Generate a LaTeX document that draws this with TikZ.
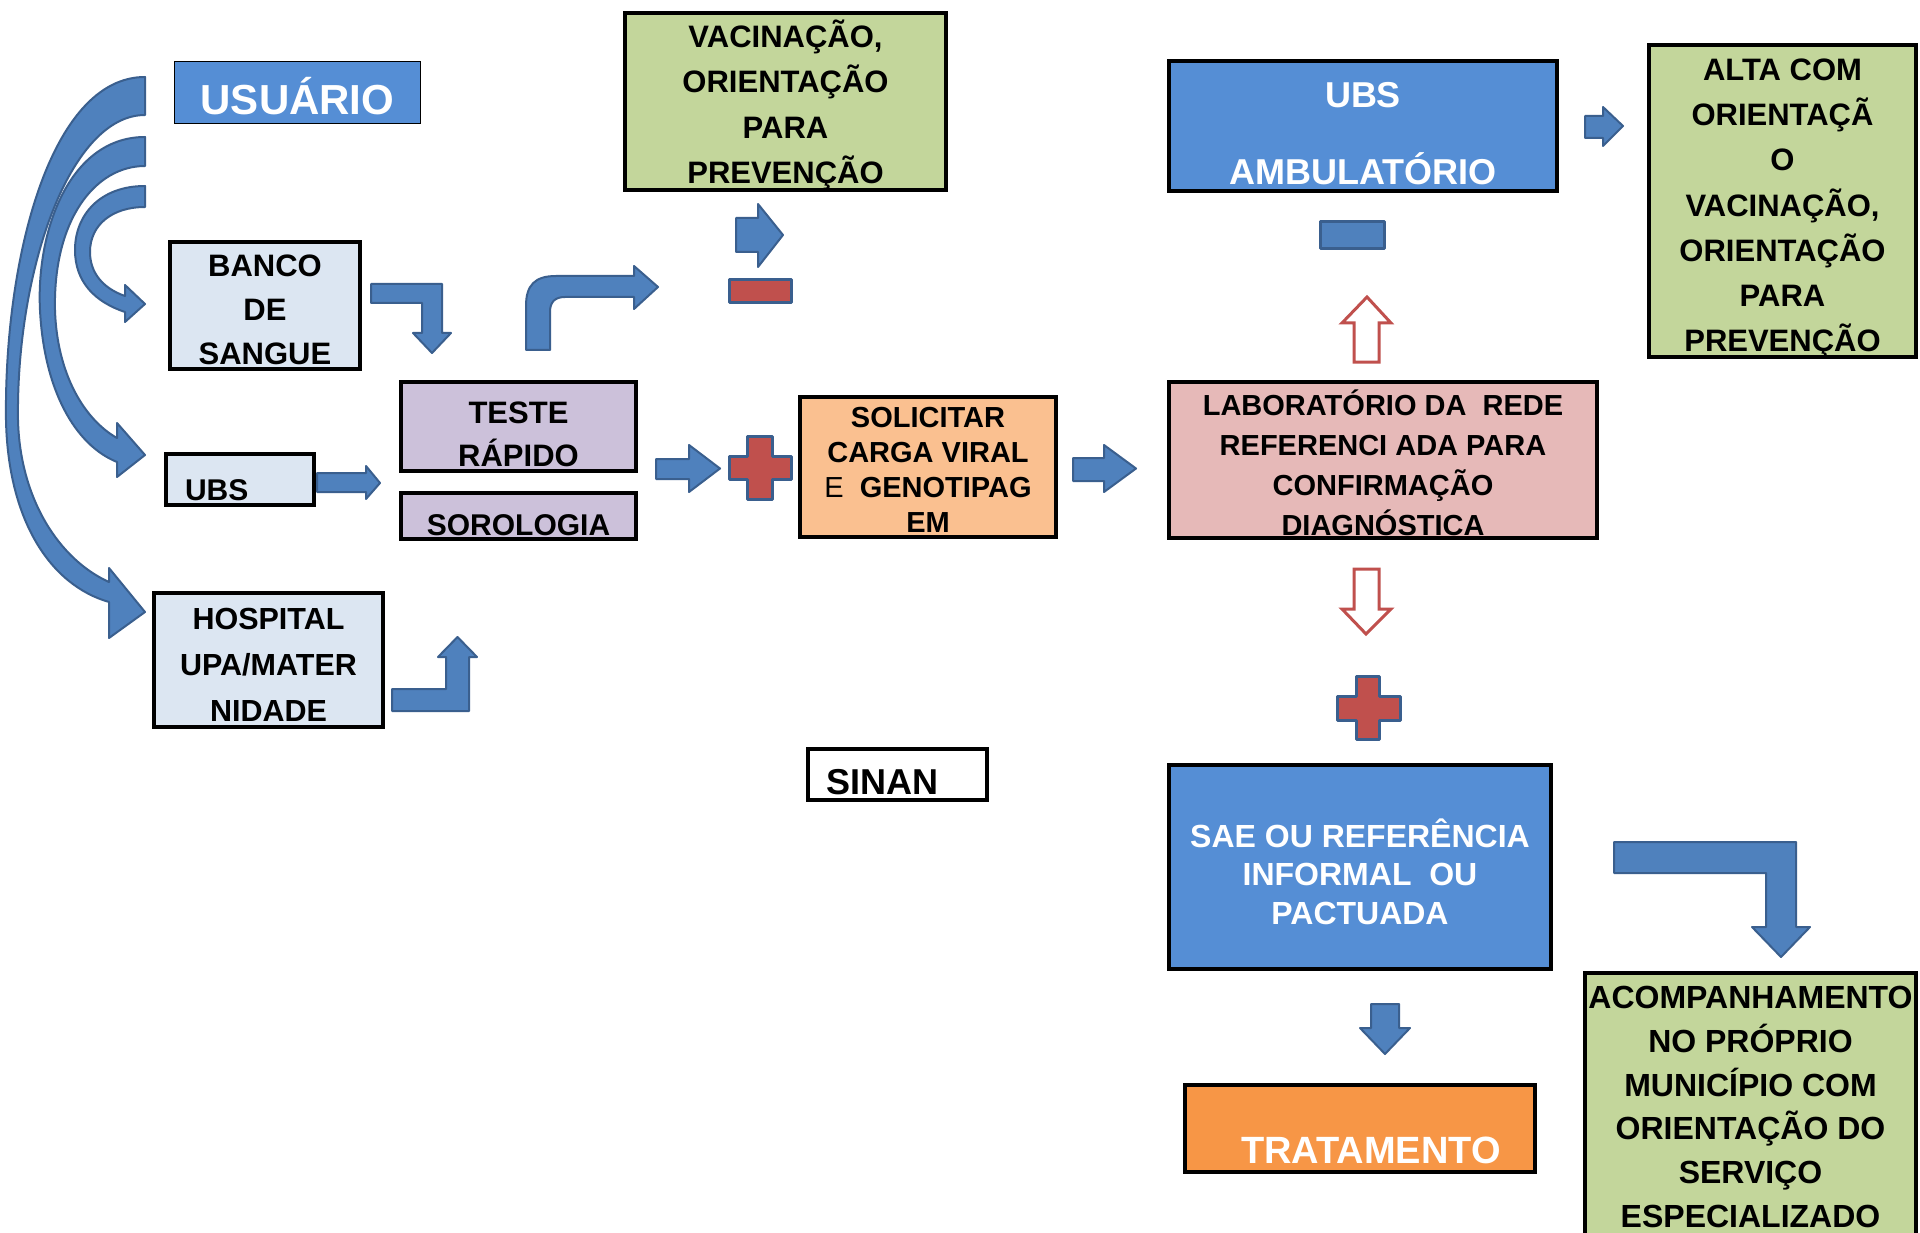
\documentclass[tikz,border=0pt]{standalone}
\usepackage{fontspec}
\setmainfont{Liberation Sans}

\definecolor{boxblue}{HTML}{558ED5}
\definecolor{paleblue}{HTML}{DCE6F2}
\definecolor{lilac}{HTML}{CCC1DA}
\definecolor{leafgreen}{HTML}{C3D69B}
\definecolor{peach}{HTML}{FAC090}
\definecolor{rose}{HTML}{E6B9B8}
\definecolor{deeporange}{HTML}{F79646}
\definecolor{arrowblue}{HTML}{4F81BD}
\definecolor{arrowedge}{HTML}{3A5F8E}
\definecolor{signred}{HTML}{C0504D}

\tikzset{
  box/.style={draw=black, line width=4pt, inner sep=2pt, align=center},
  blockarrow/.style={fill=arrowblue, draw=arrowedge, line width=2pt, line join=round},
  hollowarrow/.style={fill=white, draw=signred, line width=3pt, line join=miter},
  sign/.style={fill=signred, draw=arrowedge, line width=3pt, line join=round},
}

\begin{document}
\begin{tikzpicture}[x=1pt, y=-1pt]
        \useasboundingbox (0, 0) rectangle (1920, 1233);
        \fill[white] (0, 0) rectangle (1920, 1233);

        % boxes
        \node[box, fill=boxblue, line width=1.5pt, text=white, minimum width=246pt, minimum height=62pt, text height=45pt, text depth=0pt, font=\bfseries\fontsize{42}{50}\selectfont] at (297.5, 92.5) (usuario) {USUÁRIO};
        \node[box, fill=paleblue, minimum width=190pt, minimum height=127pt, font=\bfseries\fontsize{31}{44}\selectfont] at (265, 305.5) (banco) {\rule{0pt}{30pt}BANCO\\DE\\SANGUE};
        \node[box, fill=paleblue, minimum height=51pt, text width=110pt, inner xsep=19pt, align=left, text height=41pt, text depth=0pt, font=\bfseries\fontsize{30}{36}\selectfont] at (240, 479.5) (ubs) {UBS};
        \node[box, fill=paleblue, minimum width=229pt, minimum height=134pt, font=\bfseries\fontsize{30.5}{46}\selectfont] at (268.5, 660) (hospital) {\rule{0pt}{30.5pt}HOSPITAL\\UPA/MATER\\NIDADE};
        \node[box, fill=lilac, minimum width=235pt, minimum height=89pt, font=\bfseries\fontsize{31}{43}\selectfont] at (518.5, 426.5) (teste) {\rule{0pt}{37pt}TESTE\\RÁPIDO};
        \node[box, fill=lilac, minimum width=235pt, minimum height=46pt, text height=38pt, text depth=0pt, font=\bfseries\fontsize{30}{36}\selectfont] at (518.5, 516) (sorologia) {SOROLOGIA};
        \node[box, fill=leafgreen, minimum width=321pt, minimum height=177pt, text depth=0pt, font=\bfseries\fontsize{31}{45.5}\selectfont] at (785.5, 101.5) (vacina) {VACINAÇÃO,\\ORIENTAÇÃO\\PARA\\PREVENÇÃO};
        \node[box, fill=peach, minimum width=256pt, minimum height=140pt, font=\bfseries\fontsize{29}{35}\selectfont] at (928, 467) (carga) {\rule{0pt}{26.5pt}SOLICITAR\\CARGA VIRAL\\{\mdseries E}\ \ GENOTIPAG\\EM};
        \node[box, fill=rose, minimum width=428pt, minimum height=156pt, font=\bfseries\fontsize{29}{40}\selectfont] at (1383, 460) (lab) {\rule{0pt}{32pt}LABORATÓRIO DA\ \ REDE\\REFERENCI ADA PARA\\CONFIRMAÇÃO\\DIAGNÓSTICA};
        \node[box, fill=boxblue, text=white, minimum width=388pt, minimum height=130pt, font=\bfseries\fontsize{36}{77}\selectfont] at (1363, 126) (ambulatorio) {\rule{0pt}{40.5pt}UBS\\AMBULATÓRIO};
        \node[box, fill=leafgreen, minimum width=267pt, minimum height=312pt, text depth=0pt, font=\bfseries\fontsize{31}{45.3}\selectfont] at (1782.5, 201) (alta) {\rule{0pt}{30pt}ALTA COM\\ORIENTAÇÃ\\O\\VACINAÇÃO,\\ORIENTAÇÃO\\PARA\\PREVENÇÃO};
        \node[box, fill=boxblue, text=white, minimum width=382pt, minimum height=204pt, font=\bfseries\fontsize{32}{38.5}\selectfont] at (1360, 867) (sae) {\rule{0pt}{38pt}SAE OU REFERÊNCIA\\INFORMAL\ \ OU\\PACTUADA};
        \node[box, fill=deeporange, text=white, minimum width=350pt, minimum height=87pt, text height=69pt, text depth=0pt, font=\bfseries\fontsize{38}{44}\selectfont] at (1360, 1128.5) (tratamento) {\hspace*{22pt}TRATAMENTO};
        \node[box, fill=leafgreen, minimum width=331pt, minimum height=268pt, font=\bfseries\fontsize{32}{43.8}\selectfont] at (1750.5, 1107) (acompanha) {ACOMPANHAMENTO\\NO PRÓPRIO\\MUNICÍPIO COM\\ORIENTAÇÃO DO\\SERVIÇO\\ESPECIALIZADO};
        \node[box, fill=white, minimum height=51pt, text width=143pt, inner xsep=18pt, align=left, text height=39pt, text depth=0pt, font=\bfseries\fontsize{36}{40}\selectfont] at (897.5, 774.5) (sinan) {SINAN};

        % curved arrows from the user
        \filldraw[blockarrow] (145, 77) .. controls (50, 77) and (4, 260) .. (6, 420) .. controls (8, 520) and (50, 585) .. (109, 602) -- (109, 638) -- (145, 612) -- (109, 568) -- (109, 582) .. controls (60, 560) and (20, 500) .. (18, 420) .. controls (16, 270) and (70, 115) .. (145, 115) -- cycle;
        \filldraw[blockarrow] (145, 137) .. controls (70, 137) and (36, 230) .. (40, 310) .. controls (44, 390) and (75, 445) .. (117, 462) -- (117, 477) -- (145, 455) -- (117, 423) -- (117, 438) .. controls (85, 420) and (57, 375) .. (55, 310) .. controls (53, 220) and (95, 166) .. (145, 166) -- cycle;
        \filldraw[blockarrow] (145, 186) .. controls (100, 186) and (75, 215) .. (75, 250) .. controls (75, 282) and (95, 302) .. (125, 312) -- (125, 322) -- (145, 304) -- (125, 285) -- (125, 296) .. controls (102, 288) and (90, 272) .. (90, 252) .. controls (90, 225) and (112, 207) .. (145, 207) -- cycle;

        % bent arrows
        \filldraw[blockarrow] (371, 284) -- (442, 284) -- (442, 333) -- (451, 333) -- (432, 353) -- (413, 333) -- (422, 333) -- (422, 303) -- (371, 303) -- cycle;
        \filldraw[blockarrow] (526, 350) -- (526, 306) .. controls (526, 285) and (535, 276) .. (556, 276) -- (634, 276) -- (634, 266) -- (658, 287) -- (634, 309) -- (634, 297) -- (565, 297) .. controls (555, 297) and (550, 302) .. (550, 312) -- (550, 350) -- cycle;
        \filldraw[blockarrow] (392, 689) -- (446, 689) -- (446, 657) -- (438, 657) -- (457.5, 637) -- (477, 657) -- (469, 657) -- (469, 711) -- (392, 711) -- cycle;
        \filldraw[blockarrow] (1614, 842) -- (1796, 842) -- (1796, 927) -- (1810, 927) -- (1781, 957) -- (1752, 927) -- (1766, 927) -- (1766, 873) -- (1614, 873) -- cycle;

        % straight arrows
        \filldraw[blockarrow] (736, 218) -- (758, 218) -- (758, 204) -- (783, 235) -- (758, 267) -- (758, 252) -- (736, 252) -- cycle;
        \filldraw[blockarrow] (317, 473) -- (366, 473) -- (366, 466) -- (380, 483) -- (366, 499) -- (366, 492) -- (317, 492) -- cycle;
        \filldraw[blockarrow] (656, 459) -- (689, 459) -- (689, 445) -- (720, 468.5) -- (689, 492) -- (689, 479) -- (656, 479) -- cycle;
        \filldraw[blockarrow] (1073, 458) -- (1104, 458) -- (1104, 445) -- (1136, 468.5) -- (1104, 492) -- (1104, 481) -- (1073, 481) -- cycle;
        \filldraw[blockarrow] (1585, 116) -- (1603, 116) -- (1603, 107) -- (1623, 126) -- (1603, 146) -- (1603, 138) -- (1585, 138) -- cycle;
        \filldraw[blockarrow] (1371, 1004) -- (1399, 1004) -- (1399, 1028) -- (1410, 1028) -- (1385, 1054) -- (1360, 1028) -- (1371, 1028) -- cycle;
        \filldraw[hollowarrow] (1354, 362) -- (1354, 323) -- (1342, 323) -- (1367, 297) -- (1391, 323) -- (1379, 323) -- (1379, 362) -- cycle;
        \filldraw[hollowarrow] (1354, 569) -- (1379, 569) -- (1379, 609) -- (1391, 609) -- (1366, 634) -- (1342, 609) -- (1354, 609) -- cycle;

        % plus and minus signs
        \filldraw[sign] (729, 280) rectangle (791, 303);
        \filldraw[blockarrow, line width=3pt] (1320, 222) rectangle (1384, 249);
        \filldraw[sign] (747, 436) -- (772, 436) -- (772, 456) -- (791, 456) -- (791, 479) -- (772, 479) -- (772, 499) -- (747, 499) -- (747, 479) -- (729, 479) -- (729, 456) -- (747, 456) -- cycle;
        \filldraw[sign] (1356, 676) -- (1379, 676) -- (1379, 696) -- (1400, 696) -- (1400, 720) -- (1379, 720) -- (1379, 739) -- (1356, 739) -- (1356, 720) -- (1337, 720) -- (1337, 696) -- (1356, 696) -- cycle;
\end{tikzpicture}
\end{document}
